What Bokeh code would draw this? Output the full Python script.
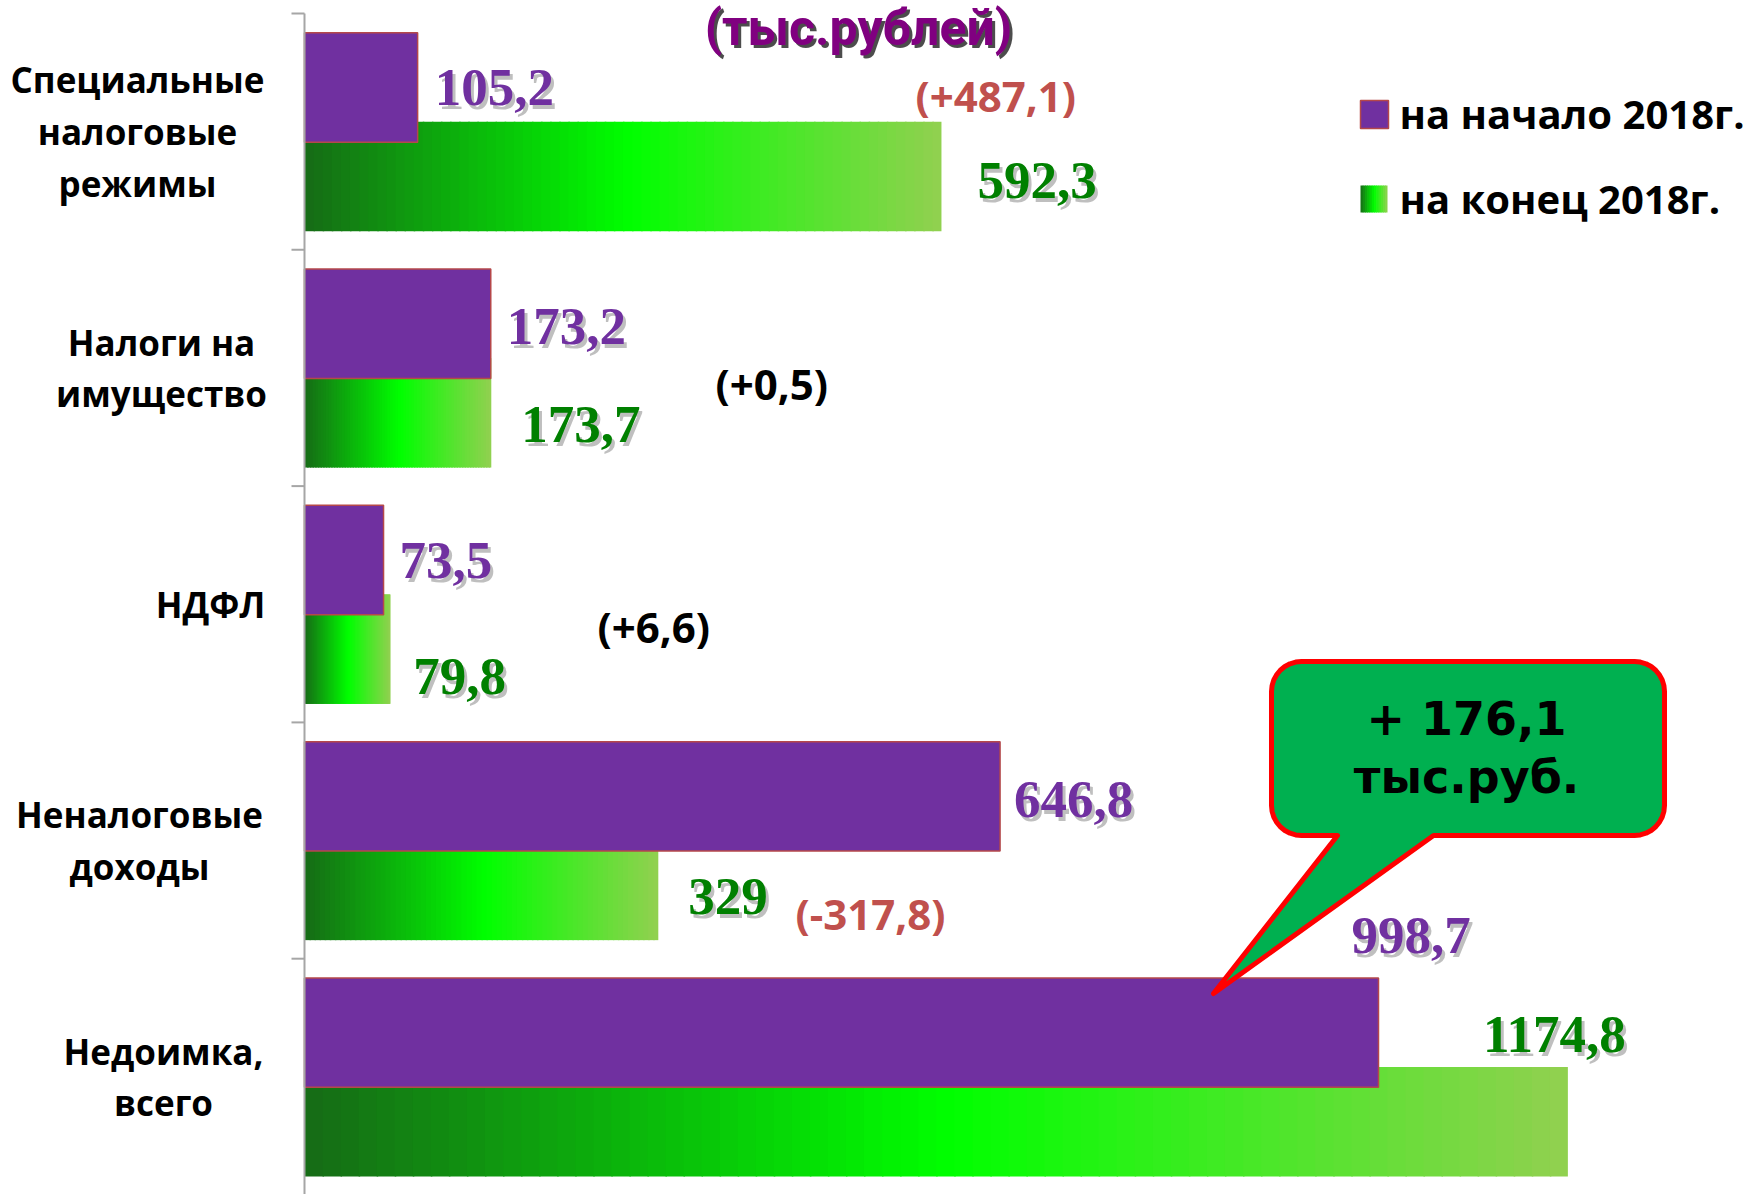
from bokeh.plotting import figure
from bokeh.models import Range1d, ColumnDataSource
from bokeh.embed import file_html
from bokeh.resources import INLINE
from bokeh.core.properties import value
import math

# ---------------- data ----------------
categories = ["Специальные\nналоговые\nрежимы", "Налоги на\nимущество", "НДФЛ",
              "Неналоговые\nдоходы", "Недоимка,\nвсего"]
start_2018 = [105.2, 173.2, 73.5, 646.8, 998.7]
end_2018 = [592.3, 173.7, 79.8, 329.0, 1174.8]
start_labels = ["105,2", "173,2", "73,5", "646,8", "998,7"]
end_labels = ["592,3", "173,7", "79,8", "329", "1174,8"]
change_labels = ["(+487,1)", "(+0,5)", "(+6,6)", "(-317,8)"]
series_names = ["на начало 2018г.", "на конец 2018г."]
title_text = "(тыс.рублей)"
callout_lines = ["+ 176,1", "тыс.руб."]

# ---------------- layout (reference pixels) ----------------
W, H = 1748, 1194
K = 1074 / 998.7           # px per thousand rubles
AX = 304                   # px of value 0
TOP = 13                   # px of top band boundary
BAND = 236.3               # px per category band
n = len(categories)


def X(px):
    return (px - AX) / K


def Y(py):
    return n - (py - TOP) / BAND


PURPLE = "#7030a0"
GREEN_TXT = "#008000"
RED_TXT = "#c0504d"
BAR_H = 0.463
P_OFF, G_OFF = 0.313, 0.69

p = figure(width=W, height=H, output_backend="svg", toolbar_location=None,
           x_range=Range1d(X(0), X(W)), y_range=Range1d(Y(H), Y(0)),
           x_axis_location=None, y_axis_location=None, min_border=0,
           outline_line_color=None, background_fill_color="white",
           border_fill_color="white")
p.grid.visible = False

tops = [n - i for i in range(n)]
yp = [t - P_OFF for t in tops]
yg = [t - G_OFF for t in tops]

# gradient colour for the "end of year" bars
STOPS = [(0.0, (22, 107, 22)), (0.51, (0, 255, 0)), (1.0, (146, 208, 80))]


def grad(f):
    for (f0, c0), (f1, c1) in zip(STOPS[:-1], STOPS[1:]):
        if f <= f1:
            t = (f - f0) / (f1 - f0)
            c = [round(a + (b - a) * t) for a, b in zip(c0, c1)]
            return "#%02x%02x%02x" % tuple(c)
    return "#%02x%02x%02x" % STOPS[-1][1]


NS = 70
gl, gr, gt, gb, gc = [], [], [], [], []
for v, y in zip(end_2018, yg):
    for j in range(NS):
        gl.append(v * j / NS)
        gr.append(min(v, v * (j + 1) / NS + 1.5 / K))
        gt.append(y + BAR_H / 2)
        gb.append(y - BAR_H / 2)
        gc.append(grad((j + 0.5) / NS))
p.quad(left="left", right="right", top="top", bottom="bottom",
       fill_color="color", line_color=None,
       source=ColumnDataSource(dict(left=gl, right=gr, top=gt, bottom=gb, color=gc)))

p.hbar(y=yp, left=0, right=start_2018, height=BAR_H, fill_color=PURPLE,
       line_color="#b5484a", line_width=1.5)

# axis line and ticks
p.segment(x0=[0], y0=[n], x1=[0], y1=[Y(1200)], line_color="#a6a6a6", line_width=2)
bounds = [n - i for i in range(n + 1)]
p.segment(x0=[X(AX - 13)] * len(bounds), y0=bounds, x1=[0] * len(bounds), y1=bounds,
          line_color="#a6a6a6", line_width=2)

# category labels
label_centers = [137, 161, 210, 139, 163]
p.text(x=[X(c) for c in label_centers], y=[t - 0.5 for t in tops], text=categories,
       text_align="center", text_baseline="middle", text_font=value("Open Sans"),
       text_font_style="bold", text_font_size="35px", text_line_height=1.1,
       text_color="black")

# value labels (offsets in px from bar end / bar centre)
p_off = [(17, 0), (16, 3), (16, 0), (14, 3), (-27, -97)]
g_off = [(36, 4), (30, 12), (23, 27), (30, 11), (-85, -87)]


def labels(vals, ys, offs, texts, color):
    xs = [v + dx / K for v, (dx, dy) in zip(vals, offs)]
    yy = [y - dy / BAND for y, (dx, dy) in zip(ys, offs)]
    common = dict(text_align="left", text_baseline="middle",
                  text_font=value("Liberation Serif"), text_font_style="bold",
                  text_font_size="53px")
    p.text(x=[x + 3 / K for x in xs], y=[y - 4 / BAND for y in yy], text=texts,
           text_color="#707070", text_alpha=0.45, **common)
    p.text(x=xs, y=yy, text=texts, text_color=color, **common)


labels(start_2018, yp, p_off, start_labels, PURPLE)
labels(end_2018, yg, g_off, end_labels, GREEN_TXT)

# change labels
chg_pos = [(915, 95), (715, 383), (597, 626), (795, 913)]
chg_col = [RED_TXT, "black", "black", RED_TXT]
p.text(x=[X(a) for a, b in chg_pos], y=[Y(b) for a, b in chg_pos], text=change_labels,
       text_color=chg_col, text_align="left", text_baseline="middle",
       text_font=value("Open Sans"), text_font_style="bold", text_font_size="42px")

# title
p.text(x=[X(861)], y=[Y(30)], text=[title_text], text_color="black", text_alpha=0.7,
       text_align="center", text_baseline="middle", text_font=value("Roboto"),
       text_font_style="bold", text_font_size="50px")
p.text(x=[X(858)], y=[Y(27)], text=[title_text], text_color="#800080",
       text_align="center", text_baseline="middle", text_font=value("Roboto"),
       text_font_style="bold", text_font_size="50px")

# legend
p.quad(left=[X(1360)], right=[X(1388)], top=[Y(100)], bottom=[Y(128)],
       fill_color=PURPLE, line_color="#b5484a", line_width=1.5)
LS = 12
p.quad(left=[X(1360 + 27 * j / LS) for j in range(LS)],
       right=[X(1360 + 27 * (j + 1.3) / LS) if j < LS - 1 else X(1387) for j in range(LS)],
       top=[Y(185)] * LS, bottom=[Y(212)] * LS,
       fill_color=[grad((j + 0.5) / LS) for j in range(LS)], line_color=None)
p.text(x=[X(1399)] * 2, y=[Y(113), Y(198)], text=series_names, text_color="black",
       text_align="left", text_baseline="middle", text_font=value("Open Sans"),
       text_font_style="bold", text_font_size="40px")

# callout
L, R, T, B, RAD = 1271, 1664, 661, 835, 30
pts = []


def arc(cx, cy, a0, a1):
    for s in range(9):
        a = math.radians(a0 + (a1 - a0) * s / 8)
        pts.append((cx + RAD * math.cos(a), cy - RAD * math.sin(a)))


arc(L + RAD, T + RAD, 180, 90)
arc(R - RAD, T + RAD, 90, 0)
arc(R - RAD, B - RAD, 0, -90)
pts += [(1433, B), (1213, 993), (1337, B)]
arc(L + RAD, B - RAD, -90, -180)
p.patch(x=[X(a) for a, b in pts], y=[Y(b) for a, b in pts], fill_color="#00b050",
        line_color="#ff0000", line_width=5, line_join="round")
p.text(x=[X(1466)] * 2, y=[Y(718), Y(776)], text=callout_lines, text_color="black",
       text_align="center", text_baseline="middle", text_font=value("DejaVu Sans"),
       text_font_style="bold", text_font_size="46px")

open("out.html", "w").write(file_html(p, INLINE))
